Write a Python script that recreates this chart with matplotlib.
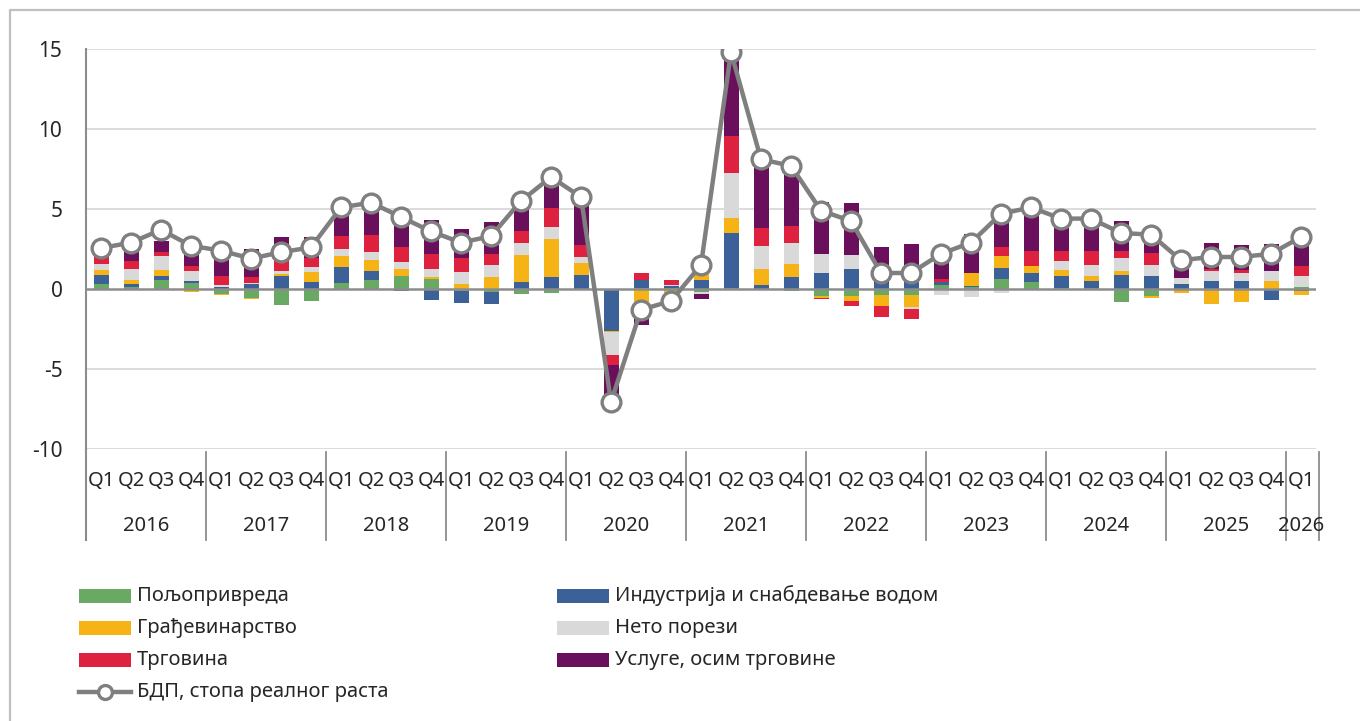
import numpy as np
import matplotlib.pyplot as plt
from matplotlib.patches import Rectangle
from matplotlib.lines import Line2D
from matplotlib.transforms import blended_transform_factory

plt.rcParams['font.family'] = ['Noto Sans', 'DejaVu Sans']

# ---------------------------------------------------------------------------
# data: contributions to real GDP growth, 2016 Q1 - 2026 Q1
# ---------------------------------------------------------------------------
years = ['2016', '2017', '2018', '2019', '2020', '2021', '2022', '2023', '2024', '2025', '2026']
quarters = ['Q1', 'Q2', 'Q3', 'Q4'] * 10 + ['Q1']

agriculture = [0.31, 0.15, 0.58, 0.35, -0.30, -0.56, -1.00, -0.73, 0.40, 0.56, 0.83, 0.63,
               -0.12, -0.20, -0.30, -0.23, 0.00, -0.05, 0.05, 0.05, -0.17, 0.05, -0.05, -0.10,
               -0.42, -0.42, -0.38, -0.38, 0.25, 0.15, 0.63, 0.42, 0.05, 0.05, -0.79, -0.42,
               0.00, 0.00, 0.00, 0.00, 0.10]
industry = [0.58, 0.17, 0.25, 0.12, 0.15, 0.31, 0.79, 0.42, 1.00, 0.58, -0.15, -0.69,
            -0.77, -0.75, 0.46, 0.77, 0.88, -2.56, 0.52, 0.15, 0.56, 3.48, 0.25, 0.73,
            1.02, 1.23, 0.40, 0.46, 0.20, 0.05, 0.71, 0.56, 0.74, 0.47, 0.85, 0.80,
            0.32, 0.53, 0.49, -0.68, -0.10]
construction = [0.31, 0.27, 0.38, -0.20, -0.05, -0.05, 0.15, 0.63, 0.65, 0.69, 0.40, 0.15,
                0.31, 0.77, 1.67, 2.33, 0.75, -0.06, -0.80, -0.35, 0.42, 0.90, 0.98, 0.83,
                -0.17, -0.33, -0.67, -0.73, 0.00, 0.79, 0.73, 0.48, 0.42, 0.32, 0.25, -0.17,
                -0.28, -0.91, -0.79, 0.49, -0.25]
net_taxes = [0.35, 0.63, 0.83, 0.67, 0.10, 0.05, 0.20, 0.35, 0.46, 0.50, 0.48, 0.48,
             0.73, 0.73, 0.73, 0.79, 0.40, -1.46, -0.45, 0.05, -0.15, 2.80, 1.46, 1.33,
             1.17, 0.90, 0.00, -0.15, -0.38, -0.48, -0.27, 0.00, 0.53, 0.66, 0.85, 0.72,
             0.38, 0.59, 0.51, 0.64, 0.70]
trade = [0.42, 0.56, 0.29, 0.31, 0.54, 0.42, 0.63, 0.54, 0.83, 1.02, 0.94, 0.94,
         0.88, 0.67, 0.79, 1.15, 0.72, -0.63, 0.42, 0.30, 1.00, 2.33, 1.10, 1.04,
         -0.05, -0.29, -0.69, -0.63, 0.20, -0.05, 0.54, 0.94, 0.64, 0.89, 0.42, 0.70,
         0.00, 0.15, 0.17, 0.00, 0.64]
services = [0.60, 1.10, 0.65, 1.20, 1.95, 1.70, 1.46, 1.33, 1.76, 2.05, 2.00, 2.10,
            1.83, 2.04, 2.15, 2.19, 2.90, -2.35, -1.00, -0.90, -0.33, 5.30, 4.30, 3.87,
            3.27, 3.23, 2.25, 2.35, 1.93, 2.46, 2.36, 2.70, 2.00, 2.06, 1.87, 1.60,
            1.38, 1.59, 1.55, 1.68, 1.90]
gdp = [2.56, 2.90, 3.70, 2.70, 2.40, 1.90, 2.30, 2.60, 5.10, 5.40, 4.50, 3.60,
       2.90, 3.30, 5.50, 7.00, 5.75, -7.06, -1.30, -0.75, 1.50, 14.80, 8.10, 7.70,
       4.90, 4.25, 1.00, 1.00, 2.20, 2.90, 4.70, 5.10, 4.40, 4.40, 3.50, 3.40,
       1.80, 2.00, 2.00, 2.20, 3.25]

series = [
    ('Пољопривреда', agriculture, '#6aa964'),
    ('Индустрија и снабдевање водом', industry, '#3c6199'),
    ('Грађевинарство', construction, '#f5b315'),
    ('Нето порези', net_taxes, '#d9d9d9'),
    ('Трговина', trade, '#dd213f'),
    ('Услуге, осим трговине', services, '#6a0f5c'),
]
gdp_label = 'БДП, стопа реалног раста'

# ---------------------------------------------------------------------------
fig = plt.figure(figsize=(13.6, 7.21), dpi=100)
W, H = 1360, 721
TXT = '#262626'


def fx(px):
    return px / W


def fy(py):
    return 1 - py / H


ax = fig.add_axes([fx(86), fy(449), fx(1316) - fx(86), fy(49) - fy(449)])

x = np.arange(len(gdp))
pos_bottom = np.zeros(len(x))
neg_bottom = np.zeros(len(x))
for name, vals, color in series:
    v = np.array(vals)
    bottom = np.where(v >= 0, pos_bottom, neg_bottom)
    ax.bar(x, v, 0.5, bottom=bottom, color=color, linewidth=0, zorder=2)
    pos_bottom += np.where(v >= 0, v, 0)
    neg_bottom += np.where(v < 0, v, 0)

ax.plot(x, gdp, color='#7f7f7f', lw=3.2, marker='o', ms=13.5, mfc='white',
        mec='#7f7f7f', mew=2.4, zorder=4)

ax.set_xlim(-0.5, 40.5)
ax.set_ylim(-10, 15)
ax.set_yticks([-10, -5, 0, 5, 10, 15])
ax.set_yticklabels(['-10', '-5', '0', '5', '10', '15'], fontsize=15, color=TXT)
ax.tick_params(axis='y', length=0, pad=17)
ax.set_xticks([])
for yv in [-10, -5, 5, 10, 15]:
    ax.axhline(yv, color='#d9d9d9', lw=1.3, zorder=0)
ax.axhline(0, color='#8c8c8c', lw=1.8, zorder=3)
for s in ['top', 'right', 'bottom']:
    ax.spines[s].set_visible(False)
ax.spines['left'].set_color('#8c8c8c')
ax.spines['left'].set_linewidth(1.5)

# two-level category axis
trans = blended_transform_factory(ax.transData, fig.transFigure)
fig.add_artist(Line2D([fx(86), fx(86)], [fy(449), fy(540)], color='#8c8c8c', lw=1.5))
for i in range(len(years) + 1):
    xs = min(-0.5 + 4 * i, 40.6)
    ax.plot([xs, xs], [fy(452), fy(540)], color='#8c8c8c', lw=1.3,
            transform=trans, clip_on=False)
for i, q in enumerate(quarters):
    ax.text(i, fy(481), q, transform=trans, ha='center', va='center',
            fontsize=14.5, color=TXT)
for i, yr in enumerate(years):
    xc = 4 * i + 1.5 if i < len(years) - 1 else 40
    ax.text(xc, fy(526), yr, transform=trans, ha='center', va='center',
            fontsize=14.5, color=TXT)

# legend, laid out as in the source: two columns, four rows
rows_y = [596, 628, 660, 692]
order = [(0, 0), (1, 0), (0, 1), (1, 1), (0, 2), (1, 2)]
cols_x = [79, 557]
for (col, row), (name, vals, color) in zip(order, series):
    fig.add_artist(Rectangle((fx(cols_x[col]), fy(rows_y[row] + 7)), fx(52), 14 / H,
                             transform=fig.transFigure, color=color, lw=0))
    fig.text(fx(cols_x[col] + 58), fy(rows_y[row]), name, ha='left', va='center',
             fontsize=14.5, color=TXT)
fig.add_artist(Line2D([fx(79), fx(131)], [fy(692), fy(692)], color='#7f7f7f', lw=3.2))
fig.add_artist(Line2D([fx(105)], [fy(692)], marker='o', ms=10, mfc='white',
                      mec='#7f7f7f', mew=2.4))
fig.text(fx(137), fy(692), gdp_label, ha='left', va='center', fontsize=14.5, color=TXT)

# outer frame (cropped at right and bottom as in the source)
fig.add_artist(Line2D([fx(10), fx(10), 1.0], [0.0, fy(10), fy(10)],
                      color='#bfbfbf', lw=1.6))

fig.savefig('out.png', dpi=100)
